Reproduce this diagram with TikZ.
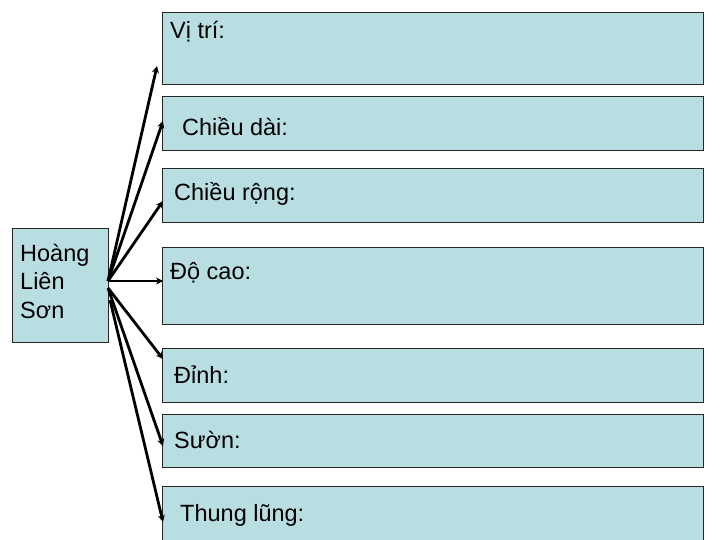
\documentclass[tikz,border=0pt]{standalone}
\usepackage{fontspec}
\setmainfont{Liberation Sans}
\usetikzlibrary{arrows.meta}
\definecolor{boxfill}{HTML}{B9DEE2}
\begin{document}
\begin{tikzpicture}[x=1pt,y=-1pt,
  bx/.style={draw=black!85,line width=0.8pt,fill=boxfill,anchor=north west,inner sep=0pt},
  lbl/.style={anchor=base west,inner sep=0pt,font=\fontsize{23.5}{28}\selectfont},
  arr/.style={line width=2.8pt,-{Stealth[length=7pt,width=7pt]}}]
\useasboundingbox (0,0) rectangle (720,540);
\begin{scope}
\clip (0,0) rectangle (720,540);
\node[bx,minimum width=96,minimum height=114] (hls) at (12,228) {};
\node[lbl] (hl1) at (20,261) {Hoàng};
\node[lbl] (hl2) at (20,289) {Liên};
\node[lbl] (hl3) at (20,318) {Sơn};
\node[bx,minimum width=541,minimum height=72] (b1) at (162,12) {};
\node[bx,minimum width=541,minimum height=54] (b2) at (162,96) {};
\node[bx,minimum width=541,minimum height=54] (b3) at (162,168) {};
\node[bx,minimum width=541,minimum height=77] (b4) at (162,247) {};
\node[bx,minimum width=541,minimum height=54] (b5) at (162,348) {};
\node[bx,minimum width=541,minimum height=53] (b6) at (162,414) {};
\node[bx,minimum width=541,minimum height=70] (b7) at (162,486) {};
\node[lbl] (t1) at (170,39) {Vị trí:};
\node[lbl] (t2) at (182,136) {Chiều dài:};
\node[lbl] (t3) at (174,201) {Chiều rộng:};
\node[lbl] (t4) at (170,279) {Độ cao:};
\node[lbl] (t5) at (174,383) {Đỉnh:};
\node[lbl] (t6) at (174,448) {Sườn:};
\node[lbl] (t7) at (180,521) {Thung lũng:};
\coordinate (s1) at (108,281);
\coordinate (s2) at (108,288);
\coordinate (s3) at (110,300);
\coordinate (e1) at (157,66);
\coordinate (e2) at (163,121);
\coordinate (e3) at (163,201);
\coordinate (e4) at (163,281);
\coordinate (e5) at (163,359);
\coordinate (e6) at (163,446);
\coordinate (e7) at (163,522);
\draw[arr] (s1) -- (e1);
\draw[arr] (s1) -- (e2);
\draw[arr] (s1) -- (e3);
\draw[arr] (s1) -- (e4);
\draw[arr] (s2) -- (e5);
\draw[arr] (s2) -- (e6);
\draw[arr] (s3) -- (e7);
\end{scope}
\end{tikzpicture}
\end{document}
